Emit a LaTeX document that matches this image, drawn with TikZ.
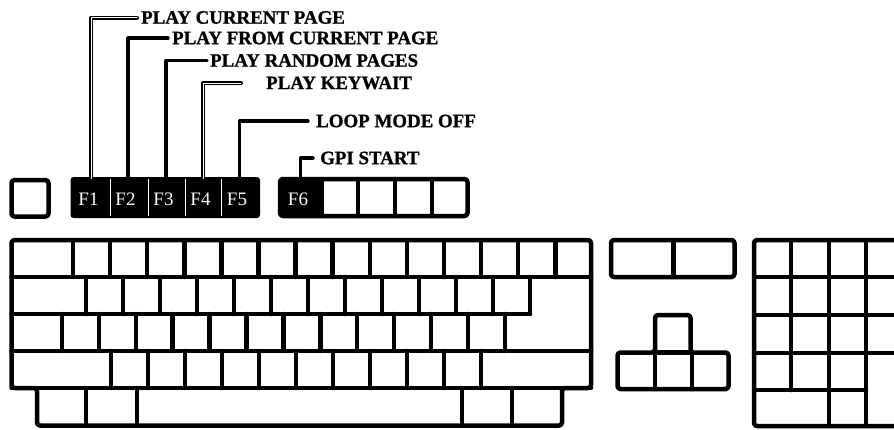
\documentclass[tikz,border=0pt]{standalone}
\usepackage{fontspec}
\setmainfont{Liberation Serif}
\newfontfamily\capfont{Liberation Serif}[FakeBold=1]
\usetikzlibrary{positioning,calc}
\tikzset{
  kbline/.style={line width=4.5pt, line join=round, line cap=round},
  kbframe/.style={kbline, rounded corners=3pt},
  fblock/.style={fill=black, rounded corners=3pt},
  fsplit/.style={white, line width=0.6pt},
  fkey/.style={minimum width=36pt, minimum height=41pt, inner sep=0pt, text=white,
    font=\fontsize{19}{19}\selectfont},
  caption/.style={anchor=west, inner sep=0pt, font=\capfont\fontsize{18.9}{18.9}\selectfont\bfseries},
  leader/.style={line width=3.4pt, line cap=round, line join=round},
  leaderd/.style={leader, line width=1.5pt, double, double distance=1pt}
}

\begin{document}
\begin{tikzpicture}[x=1pt, y=-1pt]
  \useasboundingbox (0,0) rectangle (894,429);
  \clip (0,0) rectangle (894,429);
  % function row
  \draw[kbframe] (11.5,180) rectangle (48.5,216.5);
  \fill[fblock] (70.5,177) rectangle (260,218);
  \foreach \x in {110,148,185,221} {\draw[fsplit] (\x,179) -- (\x,216);}
  \fill (280,179) rectangle (321.5,216);
  \draw[kbframe] (280,179) rectangle (467.5,216);
  \foreach \x in {321.5,358,395,432} {\draw[kbline] (\x,179) -- (\x,216);}
  \foreach \k/\x in {1/88.5,2/125.5,3/163.5,4/200.5,5/237,6/298} {\node[fkey] (f\k) at (\x,199) {F\k};}
  % captions
  \node[caption] (play1) at (141,17.5) {PLAY CURRENT PAGE};
  \node[caption] (play2) at (172,38) {PLAY FROM CURRENT PAGE};
  \node[caption] (play3) at (210,60.5) {PLAY RANDOM PAGES};
  \node[caption] (play4) at (266,83) {PLAY KEYWAIT};
  \node[caption] (play5) at (316,121) {LOOP MODE OFF};
  \node[caption] (play6) at (320,158) {GPI START};
  \foreach \k/\g in {1/4,4/25} {\draw[leaderd, shorten >=\g pt] ([xshift=2.5pt]f\k.north) |- (play\k.west);}
  \foreach \k/\g in {2/4,3/3,5/8,6/7} {\draw[leader, shorten >=\g pt] ([xshift=2.5pt]f\k.north) |- (play\k.west);}
  % main block
  \draw[kbframe] (11.5,240) -- (591,240) -- (591,388) -- (562,388) -- (562,425.5)
    -- (37,425.5) -- (37,388) -- (11.5,388) -- cycle;
  \draw[kbline] (11.5,277) -- (591,277);
  \draw[kbline] (11.5,314) -- (530,314);
  \draw[kbline] (11.5,351) -- (591,351);
  \draw[kbline] (11.5,388) -- (591,388);
  \foreach \i in {0,...,13} {\draw[kbline] ({73+37.1*\i},240) -- ({73+37.1*\i},277);}
  \foreach \i in {0,...,12} {\draw[kbline] ({86+37*\i},277) -- ({86+37*\i},314);}
  \foreach \i in {0,...,12} {\draw[kbline] ({62+36.9*\i},314) -- ({62+36.9*\i},351);}
  \foreach \i in {0,...,10} {\draw[kbline] ({111+37*\i},351) -- ({111+37*\i},388);}
  \foreach \x in {86,137,462,512} {\draw[kbline] (\x,388) -- (\x,425.5);}
  % cursor block
  \draw[kbframe] (611,240) rectangle (734.5,277);
  \draw[kbline] (673.5,240) -- (673.5,277);
  \draw[kbframe] (617.5,352.5) -- (655,352.5) -- (655,315) -- (690.5,315) -- (690.5,352.5)
    -- (728.5,352.5) -- (728.5,389) -- (617.5,389) -- cycle;
  \draw[kbline] (655,352.5) -- (692,352.5);
  \foreach \x in {655,692} {\draw[kbline] (\x,352.5) -- (\x,389);}
  % numeric pad
  \draw[kbframe] (754,240) rectangle (910,426);
  \foreach \y in {277,315,353} {\draw[kbline] (754,\y) -- (910,\y);}
  \draw[kbline] (754,390) -- (866,390);
  \draw[kbline] (791,240) -- (791,390);
  \foreach \x in {829,866} {\draw[kbline] (\x,240) -- (\x,426);}
\end{tikzpicture}
\end{document}
